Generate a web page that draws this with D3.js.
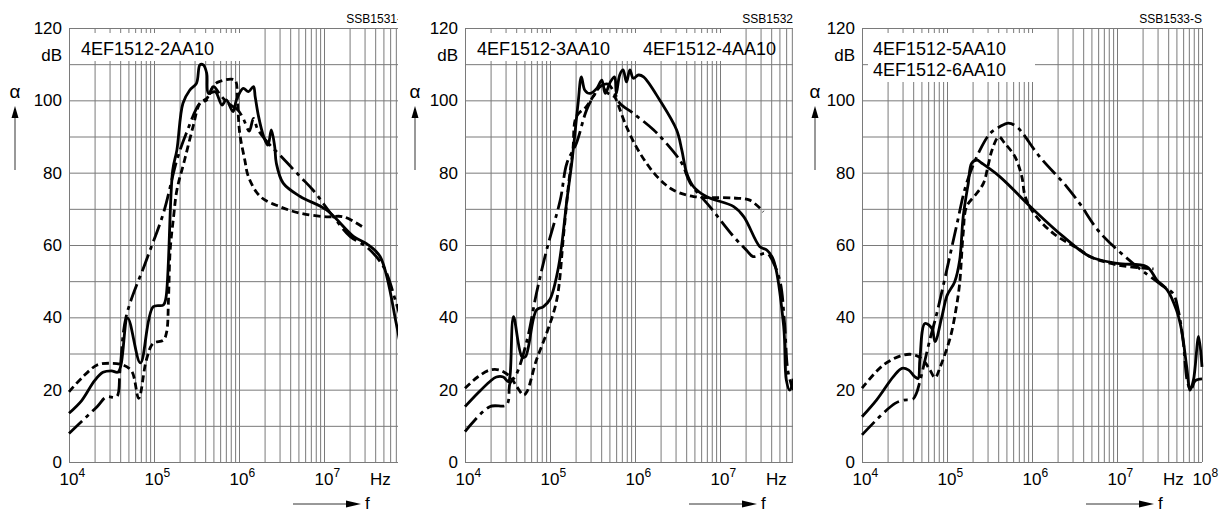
<!DOCTYPE html>
<html>
<head>
<meta charset="utf-8">
<script src="https://cdn.jsdelivr.net/npm/d3@7"></script>
<style>
body{margin:0;background:#fff;}
svg text{font-family:"Liberation Sans",Arial,Helvetica,sans-serif;fill:#000;}
</style>
</head>
<body>
<svg id="chart" width="1223" height="512"></svg>
<script>
// ---- data: [frequency in Hz, attenuation in dB] ----
const p1Solid=[[1e4,13.5],[1.41e4,17],[2e4,22.5],[2.51e4,24.8],[3.16e4,25.2],[3.8e4,24.9],[4.9e4,39.8],[6.92e4,27.4],[9.77e4,42.9],[1.29e5,43.4],[1.38e5,45.3],[1.66e5,80.7],[1.86e5,86.3],[2.19e5,99.2],[2.63e5,102.8],[3.16e5,104.7],[3.47e5,109.8],[3.8e5,109.8],[4.17e5,107.5],[4.37e5,101.9],[5.25e5,102.4],[6.31e5,98.7],[7.08e5,100.1],[8.51e5,96.9],[9.33e5,100.1],[1.12e6,103.3],[1.29e6,102.4],[1.48e6,103.8],[1.55e6,101],[1.7e6,95.5],[1.95e6,90],[2.19e6,87.6],[2.4e6,91.8],[2.63e6,87.2],[2.75e6,82.6],[3.31e6,77.1],[5.25e6,73.4],[1.07e7,69.7],[2.24e7,62.3],[3.16e7,60.4],[4.57e7,56.8],[7.08e7,38.3],[7.94e7,32]];
const p1Dash=[[1e4,19.4],[1.45e4,23.5],[2.14e4,26.8],[3.02e4,27.3],[4.37e4,26.8],[5.5e4,25],[6.61e4,17.6],[8.13e4,28.2],[9.77e4,32.8],[1.29e5,33.7],[1.41e5,36],[1.48e5,44.8],[1.55e5,58.6],[1.7e5,67.8],[1.86e5,75.2],[2.29e5,83.5],[2.88e5,92.7],[3.47e5,99.2],[4.17e5,100.5],[5.01e5,104],[5.75e5,105.1],[8.91e5,105.6],[9.55e5,100],[1.02e6,90.9],[1.17e6,83.5],[1.29e6,78.9],[1.78e6,73.4],[3.02e6,70.6],[5.25e6,68.8],[1.07e7,67.8],[1.7e7,67.8],[3.02e7,64.6]];
const p1DashDot=[[1e4,7.9],[2.14e4,15.3],[2.75e4,18],[3.63e4,18],[3.98e4,25.4],[4.68e4,40],[8.13e4,55.8],[1.29e5,68.8],[1.86e5,83.5],[2.4e5,90.9],[3.47e5,99.2],[4.17e5,100.1],[5.01e5,103.8],[6.03e5,101.5],[7.59e5,99],[9.55e5,97.5],[1.12e6,95],[1.32e6,91.5],[1.48e6,95],[1.66e6,92],[2.24e6,88],[3.16e6,84.4],[5.25e6,78.9],[7.41e6,75.2],[1.29e7,67.8],[2.04e7,62.3],[3.16e7,59.5],[5.01e7,54],[7.08e7,43.9],[7.94e7,40]];

const p2Solid=[[1e4,15.3],[1.41e4,19],[1.95e4,22.2],[2.34e4,23.5],[2.82e4,23.5],[3.24e4,22.2],[3.39e4,24],[3.72e4,40.2],[4.68e4,29.1],[5.13e4,29.1],[6.92e4,42],[8.32e4,42.9],[1e5,45],[1.26e5,54],[1.58e5,72.4],[1.82e5,83.5],[2.14e5,99.2],[2.34e5,106.5],[2.57e5,102.8],[2.95e5,101.9],[3.55e5,103.3],[4.07e5,105.6],[4.47e5,101.9],[5.13e5,105.1],[5.75e5,106.5],[6.03e5,101.9],[6.61e5,107],[7.24e5,108.4],[7.94e5,105.1],[8.71e5,108.4],[9.55e5,106.1],[1.1e6,107],[1.26e6,106.5],[1.95e6,100.1],[3.09e6,91.8],[3.55e6,86.3],[4.07e6,79.8],[4.9e6,76.1],[6.92e6,73.4],[1.45e7,70.6],[1.91e7,67.8],[2.95e7,59.5],[3.55e7,58.6],[4.27e7,55.8],[5.62e7,37.4],[6.03e7,22.7],[6.61e7,19.9],[7.24e7,23]];
const p2Dash=[[1e4,20.4],[1.41e4,23.5],[1.95e4,25.4],[2.57e4,25.4],[3.39e4,23.6],[4.07e4,20.8],[4.9e4,18.5],[5.37e4,19.5],[6.92e4,28.2],[9.12e4,35.6],[1.2e5,44.8],[1.45e5,63.2],[1.66e5,77.1],[1.86e5,86.3],[2.04e5,95.5],[2.69e5,98.3],[3.39e5,101.9],[3.98e5,104],[4.79e5,102],[5.75e5,101],[6.03e5,100.1],[7.94e5,92.7],[1.15e6,85.3],[1.82e6,78.9],[2.82e6,75.2],[4.9e6,73.4],[1.45e7,73],[2.24e7,72.4],[3.24e7,69.2]];
const p2DashDot=[[1e4,8.4],[1.95e4,15.3],[3.09e4,15.8],[3.39e4,21.8],[3.98e4,24],[5.37e4,33.7],[6.92e4,46.6],[9.12e4,58.6],[1.32e5,72.4],[1.58e5,82.6],[2.04e5,88.1],[2.69e5,97.3],[3.24e5,101],[3.89e5,103.8],[4.79e5,104.5],[5.75e5,102],[6.61e5,99.2],[9.55e5,96.4],[1.66e6,91.8],[2.34e6,88.1],[3.55e6,82.6],[4.47e6,77.1],[7.59e6,70.6],[1.45e7,62.3],[2.04e7,58.6],[2.45e7,56.8],[3.55e7,57.7],[4.27e7,55],[5.13e7,49.5],[5.75e7,38.3],[6.31e7,25],[7.24e7,19.9]];

const p3Solid=[[1e4,12.5],[1.48e4,17.1],[2.34e4,23.6],[2.95e4,25.9],[3.55e4,25.4],[4.17e4,23.6],[4.57e4,23.1],[4.79e4,28.2],[5.5e4,38.3],[6.61e4,37],[7.24e4,33.3],[8.71e4,40.2],[1e5,46],[1.23e5,49.8],[1.41e5,55.8],[1.55e5,67.8],[1.78e5,77.1],[1.95e5,82.6],[2.24e5,83.5],[2.57e5,82.6],[4.17e5,78.9],[1.05e6,69.7],[2.34e6,62.3],[4.79e6,56.8],[1e7,54.9],[2.24e7,54],[2.95e7,50.3],[3.89e7,47.6],[5.01e7,42],[5.75e7,36.5],[6.61e7,26.3],[7.24e7,19.9],[7.94e7,22.7],[9.12e7,34.7],[1e8,26.3]];
const p3Dash=[[1e4,20.4],[1.78e4,26.8],[3.09e4,29.6],[4.17e4,29.6],[5.25e4,28.2],[6.31e4,25.4],[7.24e4,23.3],[8.32e4,26.3],[1.1e5,34.7],[1.29e5,42.9],[1.41e5,49.5],[1.55e5,63.2],[1.7e5,70.6],[2.24e5,74.3],[2.69e5,77.1],[3.09e5,82.6],[3.39e5,86.3],[4.07e5,89.9],[4.79e5,88.1],[6.31e5,84.4],[7.59e5,78.9],[8.32e5,73.4],[1.05e6,68.8],[1.78e6,63.2],[3.72e6,58.6],[4.79e6,56.8],[1e7,54.5],[2.69e7,53.4]];
const p3DashDot=[[1e4,7.5],[1.78e4,13.5],[2.45e4,16.2],[3.09e4,17.1],[3.98e4,17.4],[4.37e4,19],[4.79e4,22.2],[6.31e4,34],[7.59e4,41.1],[1e5,53.4],[1.29e5,65.1],[1.7e5,77.1],[2.45e5,86.3],[3.24e5,90.9],[4.17e5,92.7],[5.25e5,93.7],[6.61e5,92.7],[1.23e6,84.4],[2.57e6,76.1],[3.63e6,71.5],[6.31e6,63.4],[1.55e7,54.9],[2.45e7,51.3],[3.55e7,48.5],[4.57e7,46.6],[5.25e7,42],[6.03e7,33],[6.76e7,22],[7.41e7,20],[8.32e7,22.5],[1e8,23]];

const panelSeries=[[p1Solid,p1Dash,p1DashDot],[p2Solid,p2Dash,p2DashDot],[p3Solid,p3Dash,p3DashDot]];
const seriesDash=[null,'7,4','18,5,4,5'];
const panelTitles=[['4EF1512-2AA10'],['4EF1512-3AA10','4EF1512-4AA10'],['4EF1512-5AA10','4EF1512-6AA10']];
const panelCodes=['SSB1531-S','SSB1532-S','SSB1533-S'];
const decadeTicks=[1e4,1e5,1e6,1e7];
const yGrid=d3.range(0,121,10);
const yLabels=[0,20,40,60,80,100,120];

// ---- layout ----
const W=1223,H=512,PW=340,YB=462,YT=28;
const frames=[
  {x0:69,clip:[0,398],box:[70,33,180,28],titles:[[12,55]],f8:false},
  {x0:465,clip:[400,793],box:[466,33,272,28],titles:[[12,55],[178,55]],f8:false},
  {x0:862,clip:[800,1223],box:[868,33,167,49],titles:[[11,55],[11,76]],f8:true}
];

const svg=d3.select('#chart');
svg.append('rect').attr('width',W).attr('height',H).attr('fill','#fff');
const defs=svg.append('defs');
const y=d3.scaleLinear().domain([0,120]).range([YB,YT]);

frames.forEach((fr,pi)=>{
  const x=d3.scaleLog().domain([1e4,1e8]).range([fr.x0,fr.x0+PW]);
  defs.append('clipPath').attr('id','clip'+pi).append('rect')
    .attr('x',fr.clip[0]).attr('y',0).attr('width',fr.clip[1]-fr.clip[0]).attr('height',H);
  const g=svg.append('g').attr('clip-path',`url(#clip${pi})`);

  // grid
  g.append('g').attr('transform',`translate(0,${YB})`)
    .call(d3.axisBottom(x).tickValues(x.ticks()).tickSize(-(YB-YT)).tickFormat(''));
  const gy=g.append('g').attr('transform',`translate(${fr.x0},0)`)
    .call(d3.axisLeft(y).tickValues(yGrid).tickSize(-PW).tickPadding(7)
      .tickFormat(d=>yLabels.includes(d)?d:''));
  g.selectAll('.domain').remove();
  g.selectAll('.tick line').attr('stroke','#7a7a7a').attr('stroke-width',1);
  gy.selectAll('text').attr('font-size',17).attr('font-family','"Liberation Sans",Arial,sans-serif').attr('fill','#000');

  // unit
  g.append('text').attr('x',fr.x0-7).attr('y',61).attr('text-anchor','end')
    .attr('font-size',17).text('dB');

  // title box
  g.append('rect').attr('x',fr.box[0]).attr('y',fr.box[1]).attr('width',fr.box[2]).attr('height',fr.box[3]).attr('fill','#fff');
  panelTitles[pi].forEach((t,i)=>{
    g.append('text').attr('x',fr.x0+fr.titles[i][0]).attr('y',fr.titles[i][1])
      .attr('font-size',18).text(t);
  });

  // code
  g.append('text').attr('x',fr.x0+PW).attr('y',23).attr('text-anchor','end')
    .attr('font-size',12).text(panelCodes[pi]);

  // curves
  const line=d3.line().x(d=>x(d[0])).y(d=>y(d[1])).curve(d3.curveCatmullRom.alpha(0.5));
  panelSeries[pi].forEach((s,si)=>{
    g.append('path').datum(s).attr('d',line).attr('fill','none')
      .attr('stroke','#000').attr('stroke-width',2.8)
      .attr('stroke-linejoin','round')
      .attr('stroke-dasharray',seriesDash[si]);
  });

  // x labels
  const xl=decadeTicks.slice();
  if(fr.f8)xl.push(1e8);
  xl.forEach(v=>{
    const t=g.append('text').attr('x',x(v)-9.5).attr('y',485).attr('font-size',17);
    t.append('tspan').text('10');
    t.append('tspan').attr('font-size',12).attr('dy',-8).text(Math.round(Math.log10(v)));
  });
  g.append('text').attr('x',fr.x0+301).attr('y',485).attr('font-size',17).text('Hz');

  // f arrow
  g.append('line').attr('x1',fr.x0+224).attr('x2',fr.x0+278).attr('y1',504).attr('y2',504)
    .attr('stroke','#333').attr('stroke-width',1);
  g.append('path').attr('d',`M${fr.x0+277},500.5L${fr.x0+292},504L${fr.x0+277},507.5Z`).attr('fill','#000');
  g.append('text').attr('x',fr.x0+296).attr('y',509).attr('font-size',17).text('f');

  // alpha arrow
  const ax=fr.clip[0]+15;
  g.append('text').attr('x',ax).attr('y',98).attr('text-anchor','middle').attr('font-size',19).text('α');
  g.append('line').attr('x1',ax).attr('x2',ax).attr('y1',170).attr('y2',117)
    .attr('stroke','#333').attr('stroke-width',1);
  g.append('path').attr('d',`M${ax-3.5},118L${ax},106L${ax+3.5},118Z`).attr('fill','#000');
});
</script>
</body>
</html>
